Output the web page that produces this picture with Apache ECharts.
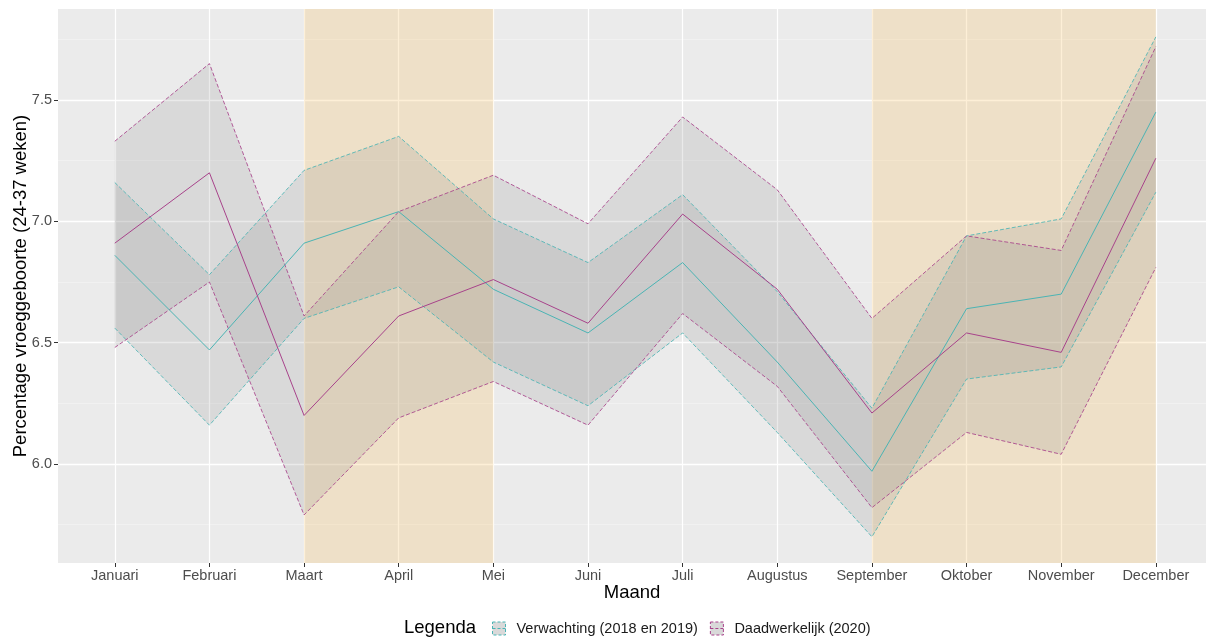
<!DOCTYPE html>
<html>
<head>
<meta charset="utf-8">
<script src="https://cdn.jsdelivr.net/npm/echarts@6/dist/echarts.min.js"></script>
<style>
html, body { margin: 0; background: #fff; }
#chart { width: 1206px; height: 639px; }
</style>
</head>
<body>
<div id="chart"></div>
<script>
var months = ['Januari', 'Februari', 'Maart', 'April', 'Mei', 'Juni', 'Juli',
	'Augustus', 'September', 'Oktober', 'November', 'December'];

// Verwachting (2018 en 2019)
var expMid  = [6.86, 6.47, 6.91, 7.04, 6.72, 6.54, 6.83, 6.42, 5.97, 6.64, 6.70, 7.45];
var expLow  = [6.56, 6.16, 6.60, 6.73, 6.42, 6.24, 6.54, 6.13, 5.70, 6.35, 6.40, 7.12];
var expHigh = [7.16, 6.78, 7.21, 7.35, 7.01, 6.83, 7.11, 6.71, 6.23, 6.94, 7.01, 7.76];

// Daadwerkelijk (2020)
var actMid  = [6.91, 7.20, 6.20, 6.61, 6.76, 6.58, 7.03, 6.72, 6.21, 6.54, 6.46, 7.26];
var actLow  = [6.48, 6.75, 5.79, 6.19, 6.34, 6.16, 6.62, 6.32, 5.82, 6.13, 6.04, 6.81];
var actHigh = [7.33, 7.65, 6.61, 7.04, 7.19, 6.99, 7.43, 7.13, 6.60, 6.94, 6.88, 7.72];

var yTicks = [6.0, 6.5, 7.0, 7.5];
var yMinor = [5.75, 6.25, 6.75, 7.25, 7.75];

// gemarkeerde periodes
var periods = [['Maart', 'Mei'], ['September', 'December']];

var nameExp = 'Verwachting (2018 en 2019)';
var nameAct = 'Daadwerkelijk (2020)';
var colExp = '#4bb4b4';
var colAct = '#a8438b';

function xy(arr)
{
	return arr.map(function(v, i) { return [i, v]; });
}

// band: polygon tussen onder- en bovengrens + gestippelde randen
function band(name, low, high, color)
{
	var dashed = { color: color, width: 1, type: [4, 2], opacity: 0.85 };
	var area = {
		name: name, type: 'custom', silent: true, z: 2,
		data: low.map(function(v, i) { return [i, v, high[i]]; }),
		encode: { x: 0, y: [1, 2] },
		renderItem: function(params, api)
		{
			if (params.dataIndexInside !== 0)
				return;
			var n = params.dataInsideLength;
			var pts = [];
			for (var j = 0; j < n; j++)
				pts.push(api.coord([api.value(0, j), api.value(1, j)]));
			for (var k = n - 1; k >= 0; k--)
				pts.push(api.coord([api.value(0, k), api.value(2, k)]));
			return {
				type: 'polygon',
				shape: { points: pts },
				style: { fill: 'rgba(128,128,128,0.17)', stroke: null }
			};
		}
	};
	return [
		area,
		{ name: name, type: 'line', data: xy(low), symbol: 'none', lineStyle: dashed, z: 3, silent: true },
		{ name: name, type: 'line', data: xy(high), symbol: 'none', lineStyle: dashed, z: 3, silent: true }
	];
}

function mid(name, vals, color)
{
	return { name: name, type: 'line', data: xy(vals), symbol: 'none',
		lineStyle: { color: color, width: 1 }, itemStyle: { color: color }, z: 4, silent: true };
}

var legendIcon = 'path://M0,0H13V13H0Z M0,6.5H13';

var series = []
	.concat(band(nameExp, expLow, expHigh, colExp))
	.concat(band(nameAct, actLow, actHigh, colAct))
	.concat([mid(nameExp, expMid, colExp), mid(nameAct, actMid, colAct)]);

series.push({
	type: 'scatter', data: [], z: 5, silent: true,
	markArea: {
		silent: true,
		itemStyle: { color: 'rgba(249,196,110,0.28)' },
		data: periods.map(function(p) {
			return [{ xAxis: months.indexOf(p[0]) }, { xAxis: months.indexOf(p[1]) }];
		})
	}
});

var options =
{
	animation: false,
	textStyle: { fontFamily: 'Liberation Sans, Arial, sans-serif' },
	grid: {
		left: 58, right: 0, top: 9, bottom: 76,
		outerBoundsMode: 'none',
		containLabel: false,
		show: true, backgroundColor: '#ebebeb', borderWidth: 0
	},
	xAxis: {
		type: 'value',
		min: -0.6,
		max: 11.53,
		name: 'Maand',
		nameLocation: 'middle',
		nameGap: 20,
		nameMoveOverlap: false,
		nameTextStyle: { fontSize: 18.5, color: '#000' },
		axisLine: { show: false, onZero: false },
		axisTick: { show: true, length: 4, lineStyle: { color: '#333' },
			customValues: months.map(function(m, i) { return i; }) },
		axisLabel: { fontSize: 14.5, color: '#4d4d4d', margin: 5,
			customValues: months.map(function(m, i) { return i; }),
			formatter: function(v) { return months[Math.round(v)]; } },
		splitLine: { show: true, lineStyle: { color: '#fff', width: 1.2 } }
	},
	yAxis: [
		{
			type: 'value',
			min: 5.592,
			max: 7.875,
			name: 'Percentage vroeggeboorte (24-37 weken)',
			nameLocation: 'middle',
			nameGap: 28,
			nameMoveOverlap: false,
			nameTextStyle: { fontSize: 18.5, color: '#000' },
			axisLine: { show: false, onZero: false },
			axisTick: { show: true, length: 4, lineStyle: { color: '#333' }, customValues: yTicks },
			axisLabel: { fontSize: 14.5, color: '#4d4d4d', margin: 6, customValues: yTicks,
				formatter: function(v) { return v.toFixed(1); } },
			splitLine: { show: true, lineStyle: { color: '#fff', width: 1.3 } },
			z: 1
		},
		{
			type: 'value',
			min: 5.592,
			max: 7.875,
			position: 'left',
			axisLine: { show: false, onZero: false },
			axisTick: { show: false, customValues: yMinor },
			axisLabel: { show: false },
			splitLine: { show: true, lineStyle: { color: '#f4f4f4', width: 0.7 } },
			z: 0
		}
	],
	legend: {
		left: 487,
		top: 616,
		itemWidth: 13,
		itemHeight: 13,
		itemGap: 12,
		selectedMode: false,
		textStyle: { fontSize: 14.5, color: '#1a1a1a', padding: [0, 0, 0, 6] },
		data: [
			{ name: nameExp, icon: legendIcon,
				itemStyle: { color: '#d9d9d9', borderColor: colExp, borderWidth: 1, borderType: [3, 2] } },
			{ name: nameAct, icon: legendIcon,
				itemStyle: { color: '#d9d9d9', borderColor: colAct, borderWidth: 1, borderType: [3, 2] } }
		]
	},
	graphic: [{
		type: 'text',
		left: 404,
		top: 618,
		style: { text: 'Legenda', fontSize: 18.5, fill: '#000',
			fontFamily: 'Liberation Sans, Arial, sans-serif' }
	}],
	series: series
};

var chart = echarts.init(document.getElementById('chart'));
chart.setOption(options);
</script>
</body>
</html>
